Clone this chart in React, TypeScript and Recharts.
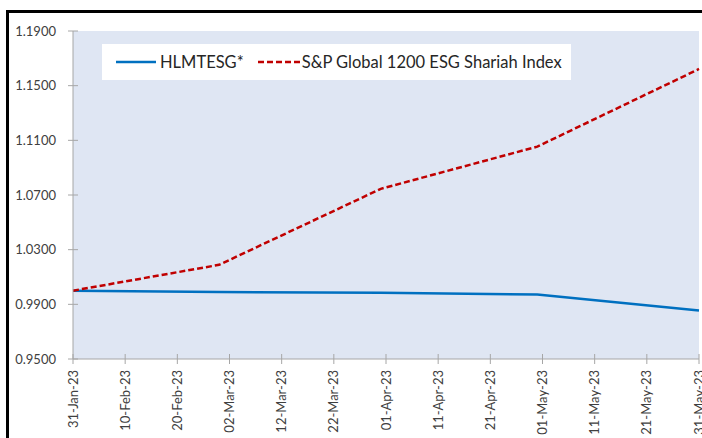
import React from 'react'
import { LineChart, Line, XAxis, YAxis, CartesianGrid } from 'recharts'

// month-end points, days counted from 31-Jan-23
const pointDates = ['31-Jan-23', '28-Feb-23', '31-Mar-23', '30-Apr-23', '31-May-23']
const pointDays = [0, 28, 59, 89, 120]
const hlmtesg = [1.0, 0.999, 0.9984, 0.9972, 0.9855]
const spShariah = [1.0, 1.0189, 1.0745, 1.1054, 1.1622]

const tickDays = [0, 10, 20, 30, 40, 50, 60, 70, 80, 90, 100, 110, 120]
const tickLabels = [
  '31-Jan-23', '10-Feb-23', '20-Feb-23', '02-Mar-23', '12-Mar-23', '22-Mar-23', '01-Apr-23',
  '11-Apr-23', '21-Apr-23', '01-May-23', '11-May-23', '21-May-23', '31-May-23',
]
const yTicks = [0.95, 0.99, 1.03, 1.07, 1.11, 1.15, 1.19]

const seriesNames = ['HLMTESG*', 'S&P Global 1200 ESG Shariah Index']

const data = pointDays.map((day, i) => ({
  day,
  date: pointDates[i],
  hlmtesg: hlmtesg[i],
  sp: spShariah[i],
}))

const PLOT_LEFT = 73
const PLOT_BOTTOM = 359
const AXIS_GREY = '#A6A6A6'
const TEXT = '#404040'
const FONT = 'Lato, "Noto Sans", sans-serif'
const BLUE = '#0070C0'
const RED = '#C00000'
const DASH = '6 3'

const XTick = (props: any) => {
  const { x, payload } = props
  const label = tickLabels[tickDays.indexOf(payload.value)]
  return (
    <g>
      <line x1={x} x2={x} y1={PLOT_BOTTOM - 5} y2={PLOT_BOTTOM + 5} stroke={AXIS_GREY} />
      <text
        x={x}
        y={PLOT_BOTTOM + 11}
        transform={`rotate(-90 ${x} ${PLOT_BOTTOM + 11})`}
        textAnchor="end"
        dy="0.35em"
        fontSize={13}
        fontFamily={FONT}
        fill={TEXT}
      >
        {label}
      </text>
    </g>
  )
}

const YTick = (props: any) => {
  const { y, payload } = props
  return (
    <g>
      <line x1={PLOT_LEFT - 5} x2={PLOT_LEFT + 5} y1={y} y2={y} stroke={AXIS_GREY} />
      <text x={PLOT_LEFT - 17} y={y} dy="0.35em" textAnchor="end" fontSize={13} fontFamily={FONT} fill={TEXT}>
        {Number(payload.value).toFixed(4)}
      </text>
    </g>
  )
}

const LegendBox = () => (
  <div
    style={{
      position: 'absolute',
      left: 102,
      top: 44,
      background: '#fff',
      width: 469,
      height: 36,
      display: 'flex',
      alignItems: 'center',
      fontFamily: FONT,
      fontSize: 16.5,
      color: '#262626',
      boxSizing: 'border-box',
      paddingLeft: 14,
      whiteSpace: 'nowrap',
    }}
  >
    <svg width={40} height={4} style={{ marginRight: 4 }}>
      <line x1={0} x2={40} y1={2} y2={2} stroke={BLUE} strokeWidth={2.5} />
    </svg>
    <span style={{ marginRight: 14 }}>{seriesNames[0]}</span>
    <svg width={42} height={4} style={{ marginRight: 2 }}>
      <line x1={0} x2={42} y1={2} y2={2} stroke={RED} strokeWidth={2.5} strokeDasharray={DASH} />
    </svg>
    <span>{seriesNames[1]}</span>
  </div>
)

const App: React.FC = () => {
  return (
    <div style={{ position: 'absolute', left: 0, top: 0, width: 702, height: 438, overflow: 'hidden', background: '#fff' }}>
      <div
        style={{
          position: 'absolute',
          left: 6,
          top: 10,
          width: 800,
          height: 600,
          border: '3px solid #000',
        }}
      />
      <div style={{ position: 'absolute', left: 0, top: 0 }}>
        <LineChart width={702} height={438} data={data} margin={{ top: 31, right: 3, left: 0, bottom: 0 }}>
          <CartesianGrid fill="#DFE6F3" stroke="none" horizontal={false} vertical={false} />
          <XAxis
            type="number"
            dataKey="day"
            domain={[0, 120]}
            ticks={tickDays}
            interval={0}
            height={79}
            tickLine={false}
            axisLine={{ stroke: AXIS_GREY }}
            tick={XTick}
          />
          <YAxis
            type="number"
            domain={[0.95, 1.19]}
            ticks={yTicks}
            interval={0}
            width={73}
            tickLine={false}
            axisLine={{ stroke: AXIS_GREY }}
            tick={YTick}
          />
          <Line
            type="linear"
            dataKey="hlmtesg"
            name={seriesNames[0]}
            stroke={BLUE}
            strokeWidth={2.5}
            dot={false}
            isAnimationActive={false}
          />
          <Line
            type="linear"
            dataKey="sp"
            name={seriesNames[1]}
            stroke={RED}
            strokeWidth={2.5}
            strokeDasharray={DASH}
            dot={false}
            isAnimationActive={false}
          />
        </LineChart>
      </div>
      <LegendBox />
    </div>
  )
}

export default App
